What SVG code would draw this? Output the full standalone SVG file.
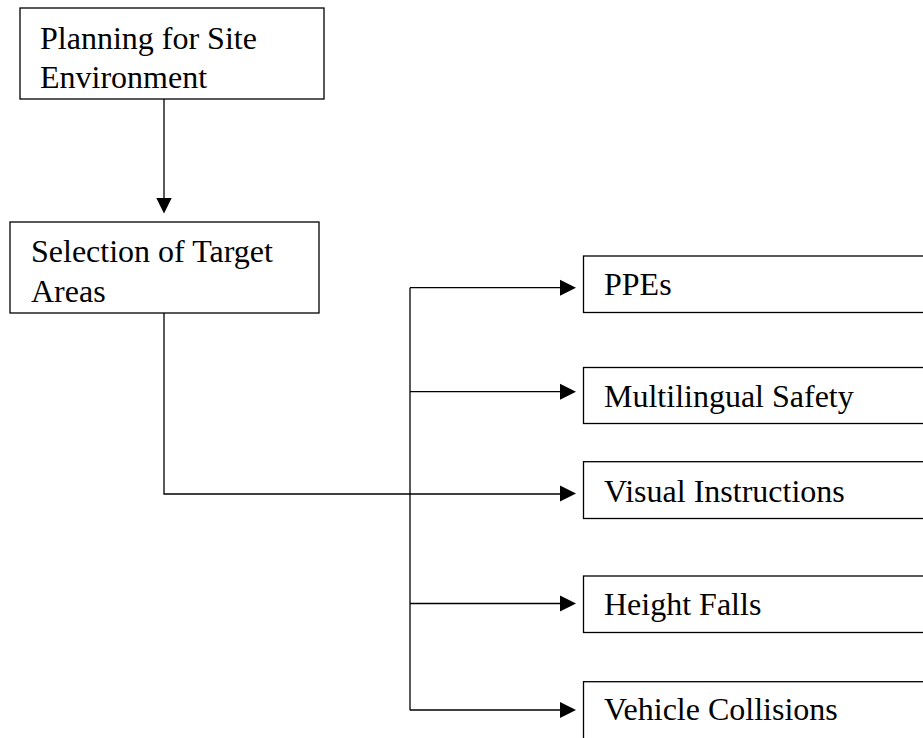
<svg xmlns="http://www.w3.org/2000/svg" width="923" height="738" viewBox="0 0 923 738">
  <style>
    .box { fill: #fff; stroke: #000; stroke-width: 1.3; }
    .lbl { font-family: "Liberation Serif", "Times New Roman", serif; font-size: 32px; fill: #000; }
    .wire { fill: none; stroke: #000; stroke-width: 1.3; }
    .head { fill: #000; stroke: none; }
  </style>
  <rect width="923" height="738" fill="#fff"/>

  <!-- connectors -->
  <g id="connectors">
    <!-- planning -> selection -->
    <line class="wire" x1="164" y1="99" x2="164" y2="199"/>
    <polygon class="head" points="156.3,198 171.7,198 164,213.5"/>
    <!-- selection -> branch trunk -->
    <polyline class="wire" points="164,313 164,494 561,494"/>
    <!-- trunk -->
    <line class="wire" x1="410" y1="287.7" x2="410" y2="710.3"/>
    <!-- branches -->
    <line class="wire" x1="410" y1="287.7" x2="561" y2="287.7"/>
    <line class="wire" x1="410" y1="391.7" x2="561" y2="391.7"/>
    <line class="wire" x1="410" y1="603.5" x2="561" y2="603.5"/>
    <line class="wire" x1="410" y1="710" x2="561" y2="710"/>
    <polygon class="head" points="560,279.7 560,295.7 576,287.7"/>
    <polygon class="head" points="560,383.7 560,399.7 576,391.7"/>
    <polygon class="head" points="560,485.5 560,501.5 576,493.5"/>
    <polygon class="head" points="560,595.5 560,611.5 576,603.5"/>
    <polygon class="head" points="560,702 560,718 576,710"/>
  </g>

  <g id="planning">
    <rect class="box" x="20" y="8" width="304" height="91"/>
    <text class="lbl" x="40" y="49">Planning for Site</text>
    <text class="lbl" x="40" y="88">Environment</text>
  </g>

  <g id="selection">
    <rect class="box" x="10" y="222" width="309" height="91"/>
    <text class="lbl" x="31" y="262">Selection of Target</text>
    <text class="lbl" x="31" y="302">Areas</text>
  </g>

  <g id="ppes">
    <rect class="box" x="583.5" y="256" width="360" height="56.5"/>
    <text class="lbl" x="604" y="295">PPEs</text>
  </g>

  <g id="multilingual">
    <rect class="box" x="583.5" y="367.5" width="360" height="56"/>
    <text class="lbl" x="604" y="406.7">Multilingual Safety</text>
  </g>

  <g id="visual">
    <rect class="box" x="583.5" y="461.7" width="360" height="56.8"/>
    <text class="lbl" x="604" y="501.7">Visual Instructions</text>
  </g>

  <g id="height">
    <rect class="box" x="583.5" y="576" width="360" height="56.5"/>
    <text class="lbl" x="604" y="615">Height Falls</text>
  </g>

  <g id="vehicle">
    <rect class="box" x="583.5" y="681.7" width="360" height="80"/>
    <text class="lbl" x="604" y="720">Vehicle Collisions</text>
  </g>
</svg>
